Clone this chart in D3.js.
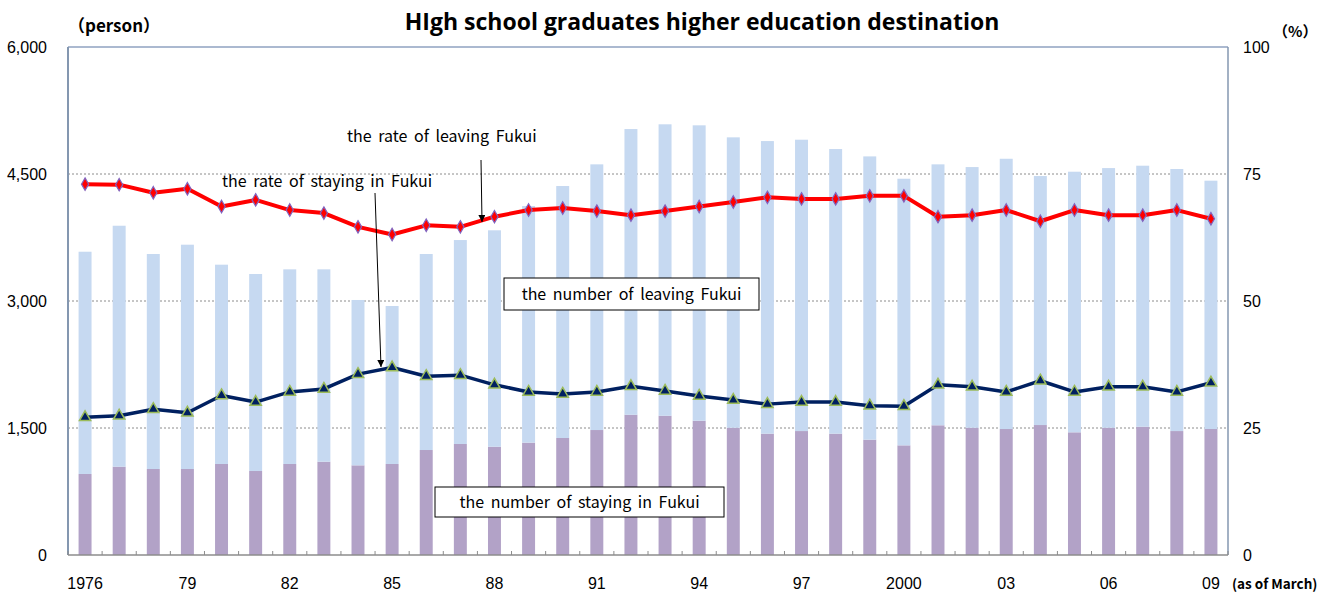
<!DOCTYPE html>
<html lang="en">
<head>
<meta charset="utf-8">
<title>High school graduates higher education destination</title>
<script src="https://d3js.org/d3.v7.min.js"></script>
<style>
  body { margin: 0; background: #fff; }
  .grid { stroke: #8c8c8c; stroke-width: 1; stroke-dasharray: 2,2; }
  .axisText { font-family: "Liberation Sans", Arial, sans-serif; font-size: 16px; fill: #000; }
  .note { font-family: "Noto Sans CJK JP", "Noto Sans", sans-serif; font-size: 16px; word-spacing: 3px; fill: #000; }
</style>
</head>
<body>
<script>
// categories
var years = [1976, 1977, 1978, 1979, 1980, 1981, 1982, 1983, 1984, 1985, 1986, 1987,
             1988, 1989, 1990, 1991, 1992, 1993, 1994, 1995, 1996, 1997, 1998, 1999,
             2000, 2001, 2002, 2003, 2004, 2005, 2006, 2007, 2008, 2009];

// number of graduates staying in Fukui (person)
var staying = [957, 1043, 1016, 1016, 1075, 992, 1075, 1102, 1059, 1075, 1240, 1311,
               1279, 1327, 1382, 1476, 1657, 1645, 1586, 1503, 1433, 1464, 1433, 1362,
               1295, 1532, 1503, 1488, 1535, 1449, 1503, 1515, 1464, 1488];

// number of graduates leaving Fukui (person), stacked on top
var leaving = [2625, 2846, 2539, 2649, 2354, 2327, 2299, 2272, 1953, 1866, 2315, 2409,
               2556, 2795, 2976, 3138, 3374, 3442, 3489, 3430, 3456, 3441, 3362, 3346,
               3149, 3082, 3079, 3192, 2941, 3078, 3067, 3083, 3095, 2933];

// rates (%)
var rateLeaving = [73.0, 72.9, 71.3, 72.1, 68.6, 69.9, 67.9, 67.3, 64.6, 63.1, 64.9, 64.6,
                   66.6, 67.9, 68.3, 67.7, 66.9, 67.7, 68.6, 69.5, 70.4, 70.1, 70.1, 70.7,
                   70.7, 66.6, 66.9, 67.9, 65.7, 67.9, 66.9, 66.9, 67.9, 66.2];
var rateStaying = [27.1, 27.4, 28.7, 28.0, 31.4, 30.1, 32.1, 32.7, 35.6, 36.9, 35.2, 35.4,
                   33.5, 32.1, 31.7, 32.1, 33.2, 32.3, 31.3, 30.5, 29.7, 30.1, 30.1, 29.4,
                   29.3, 33.5, 33.1, 32.1, 34.3, 32.1, 33.1, 33.1, 32.1, 33.9];

// tick labels
var leftTicks = [0, 1500, 3000, 4500, 6000];
var rightTicks = [0, 25, 50, 75, 100];
var xLabelYears = [1976, 1979, 1982, 1985, 1988, 1991, 1994, 1997, 2000, 2003, 2006, 2009];
var xLabelText = ["1976", "79", "82", "85", "88", "91", "94", "97", "2000", "03", "06", "09"];

var w = 1328, h = 592;
var margin = {top: 47, right: 100, bottom: 37, left: 68};
var innerW = w - margin.left - margin.right;
var innerH = h - margin.top - margin.bottom;

var svg = d3.select("body").append("svg")
  .attr("width", w)
  .attr("height", h);

var g = svg.append("g")
  .attr("transform", `translate(${margin.left},${margin.top})`);

var xScale = d3.scaleBand()
  .domain(years)
  .range([0, innerW])
  .paddingInner(0.62)
  .paddingOuter(0.31);

var yLeft = d3.scaleLinear().domain([0, 6000]).range([innerH, 0]);
var yRight = d3.scaleLinear().domain([0, 100]).range([innerH, 0]);

var cx = d => xScale(d) + xScale.bandwidth() / 2;

// gridlines
g.selectAll("line.grid")
  .data(leftTicks.filter(d => d > 0 && d < 6000))
  .enter().append("line")
  .attr("class", "grid")
  .attr("x1", 0).attr("x2", innerW)
  .attr("y1", d => yLeft(d)).attr("y2", d => yLeft(d));

// top border
g.append("line")
  .attr("x1", 0).attr("x2", innerW)
  .attr("y1", yLeft(6000)).attr("y2", yLeft(6000))
  .attr("stroke", "#8fa2c0").attr("stroke-width", 1.5);

// stacked bars
g.selectAll("rect.stay")
  .data(years)
  .enter().append("rect")
  .attr("x", d => xScale(d))
  .attr("width", xScale.bandwidth())
  .attr("y", (d, i) => yLeft(staying[i]))
  .attr("height", (d, i) => yLeft(0) - yLeft(staying[i]))
  .attr("fill", "#b2a2c7");

g.selectAll("rect.leave")
  .data(years)
  .enter().append("rect")
  .attr("x", d => xScale(d))
  .attr("width", xScale.bandwidth())
  .attr("y", (d, i) => yLeft(staying[i] + leaving[i]))
  .attr("height", (d, i) => yLeft(staying[i]) - yLeft(staying[i] + leaving[i]))
  .attr("fill", "#c6d9f1");

// axes lines
g.append("line")
  .attr("x1", 0).attr("x2", 0).attr("y1", 0).attr("y2", innerH)
  .attr("stroke", "#8497b0").attr("stroke-width", 2);
g.append("line")
  .attr("x1", innerW).attr("x2", innerW).attr("y1", 0).attr("y2", innerH)
  .attr("stroke", "#8497b0").attr("stroke-width", 1.5);
g.append("line")
  .attr("x1", 0).attr("x2", innerW).attr("y1", innerH).attr("y2", innerH)
  .attr("stroke", "#8c8c8c").attr("stroke-width", 1.5);

// x ticks between categories (inside)
var tickPos = d3.range(years.length + 1).map(i => i * xScale.step());
g.selectAll("line.xtick")
  .data(tickPos)
  .enter().append("line")
  .attr("x1", d => d).attr("x2", d => d)
  .attr("y1", innerH).attr("y2", innerH - 4)
  .attr("stroke", "#8c8c8c").attr("stroke-width", 1);

// left axis labels
g.selectAll("text.yl")
  .data(leftTicks)
  .enter().append("text")
  .attr("class", "axisText")
  .attr("x", -21)
  .attr("y", d => yLeft(d))
  .attr("dy", "0.35em")
  .attr("text-anchor", "end")
  .text(d => d3.format(",")(d));

// right axis labels
g.selectAll("text.yr")
  .data(rightTicks)
  .enter().append("text")
  .attr("class", "axisText")
  .attr("x", innerW + 15)
  .attr("y", d => yRight(d))
  .attr("dy", "0.35em")
  .text(d => d);

// x labels
g.selectAll("text.xl")
  .data(xLabelYears)
  .enter().append("text")
  .attr("class", "axisText")
  .attr("x", d => cx(d))
  .attr("y", innerH + 34)
  .attr("text-anchor", "middle")
  .text((d, i) => xLabelText[i]);

svg.append("text")
  .attr("x", 1232).attr("y", 589)
  .attr("font-family", "'Noto Sans CJK JP', sans-serif")
  .attr("font-weight", "bold")
  .attr("font-size", 13.5)
  .text("(as of March)");

// lines
var lineGen = d3.line()
  .x((d, i) => cx(years[i]))
  .y(d => yRight(d));

g.append("path")
  .datum(rateLeaving)
  .attr("d", lineGen)
  .attr("fill", "none")
  .attr("stroke", "#ff0000")
  .attr("stroke-width", 4)
  .attr("stroke-linejoin", "round");

g.append("path")
  .datum(rateStaying)
  .attr("d", lineGen)
  .attr("fill", "none")
  .attr("stroke", "#002060")
  .attr("stroke-width", 3.5)
  .attr("stroke-linejoin", "round");

// markers
var diamond = d3.symbol().type(d3.symbolDiamond).size(45);
var tri = d3.symbol().type(d3.symbolTriangle).size(55);

g.selectAll("path.dia")
  .data(rateLeaving)
  .enter().append("path")
  .attr("d", diamond)
  .attr("transform", (d, i) => `translate(${cx(years[i])},${yRight(d)})`)
  .attr("fill", "#ff0000")
  .attr("stroke", "#8064c0")
  .attr("stroke-width", 1.2);

g.selectAll("path.tri")
  .data(rateStaying)
  .enter().append("path")
  .attr("d", tri)
  .attr("transform", (d, i) => `translate(${cx(years[i])},${yRight(d)})`)
  .attr("fill", "#002060")
  .attr("stroke", "#9bbb59")
  .attr("stroke-width", 1.5);

// title and unit labels
svg.append("text")
  .attr("x", 702).attr("y", 30)
  .attr("text-anchor", "middle")
  .attr("font-family", "'Open Sans', sans-serif")
  .attr("font-weight", "bold")
  .attr("font-size", 23)
  .text("HIgh school graduates higher education destination");

svg.append("text")
  .attr("x", 68).attr("y", 32)
  .attr("font-family", "'Noto Sans CJK JP', sans-serif")
  .attr("font-weight", "bold")
  .attr("font-size", 17)
  .text("（person）");

svg.append("text")
  .attr("x", 1273).attr("y", 37)
  .attr("font-family", "'Noto Sans CJK JP', sans-serif")
  .attr("font-weight", "bold")
  .attr("font-size", 15)
  .text("（%）");

// annotations
svg.append("defs").append("marker")
  .attr("id", "arrow")
  .attr("viewBox", "0 0 10 10")
  .attr("refX", 10).attr("refY", 5)
  .attr("markerWidth", 7).attr("markerHeight", 7)
  .attr("orient", "auto")
  .append("path")
  .attr("d", "M0,0 L10,5 L0,10 z")
  .attr("fill", "#000");

svg.append("text").attr("class", "note")
  .attr("x", 347).attr("y", 142)
  .text("the rate of leaving Fukui");

svg.append("line")
  .attr("x1", 481).attr("y1", 160)
  .attr("x2", 482).attr("y2", 222)
  .attr("stroke", "#000").attr("stroke-width", 1)
  .attr("marker-end", "url(#arrow)");

svg.append("text").attr("class", "note")
  .attr("x", 222).attr("y", 187)
  .text("the rate of staying in Fukui");

svg.append("line")
  .attr("x1", 375).attr("y1", 193)
  .attr("x2", 381).attr("y2", 367)
  .attr("stroke", "#000").attr("stroke-width", 1)
  .attr("marker-end", "url(#arrow)");

var boxes = [
  {x: 504, y: 278, w: 255, h: 32, t: "the number of leaving Fukui"},
  {x: 435, y: 487, w: 289, h: 30, t: "the number of staying in Fukui"}
];
boxes.forEach(function(b) {
  svg.append("rect")
    .attr("x", b.x).attr("y", b.y).attr("width", b.w).attr("height", b.h)
    .attr("fill", "#fff").attr("stroke", "#000").attr("stroke-width", 1);
  svg.append("text").attr("class", "note")
    .attr("x", b.x + b.w / 2).attr("y", b.y + b.h / 2)
    .attr("dy", "0.35em")
    .attr("text-anchor", "middle")
    .text(b.t);
});
</script>
</body>
</html>
